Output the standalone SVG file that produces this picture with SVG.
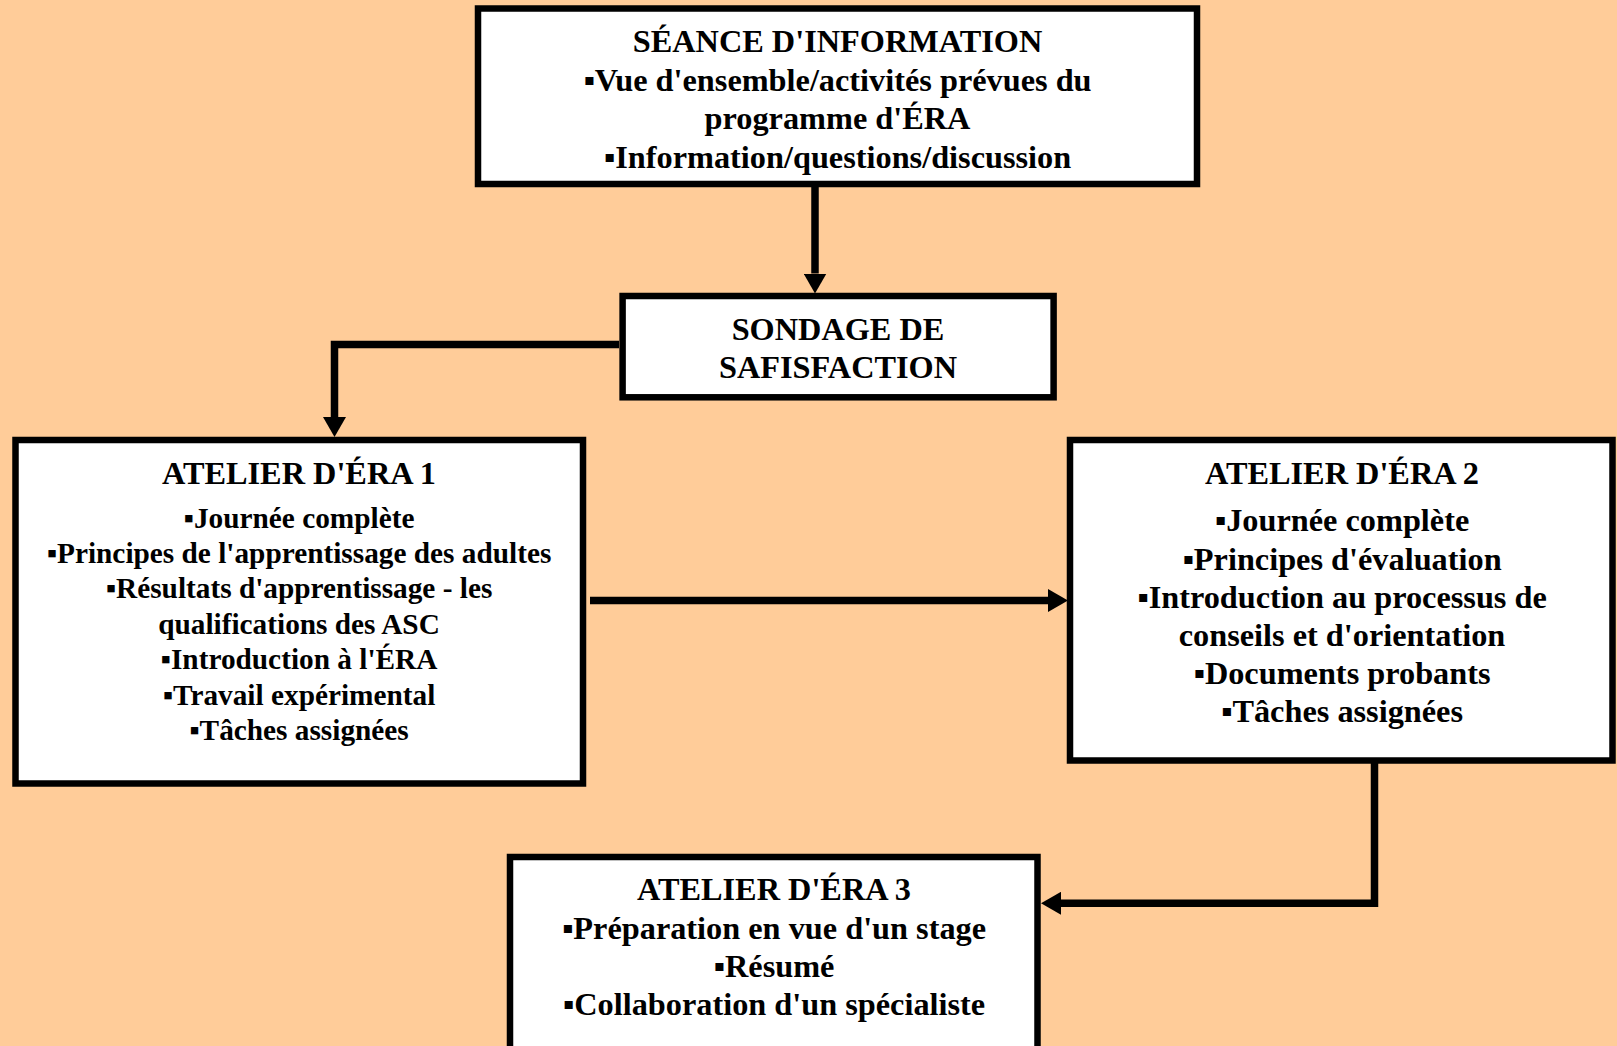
<svg xmlns="http://www.w3.org/2000/svg" width="1617" height="1046" viewBox="0 0 1617 1046">
<style>
.box{fill:#FFFFFF;stroke:#000;stroke-width:6.5}
.t{font-family:"Liberation Serif","Times New Roman",serif;font-weight:bold;fill:#000;text-anchor:middle}
.f32{font-size:32.3px}
.f29{font-size:29.3px}
.c{fill:none;stroke:#000;stroke-width:7.5;stroke-linejoin:miter}
</style>
<defs>
<marker id="ah" viewBox="0 0 20 23" refX="0" refY="11.5" markerWidth="20" markerHeight="23" markerUnits="userSpaceOnUse" orient="auto">
<path d="M0,0 L20,11.5 L0,23 z" fill="#000"/>
</marker>
</defs>
<rect x="0" y="0" width="1617" height="1046" fill="#FFCC99"/>
<g id="connectors">
<path class="c" d="M815,187 V273.5" marker-end="url(#ah)"/>
<path class="c" d="M619,344.5 H334.5 V417" marker-end="url(#ah)"/>
<path class="c" d="M590,600.5 H1048" marker-end="url(#ah)"/>
<path class="c" d="M1374.5,763 V903.3 H1061" marker-end="url(#ah)"/>
</g>
<g id="seance">
<rect class="box" x="478" y="8.5" width="719" height="175.5"/>
<text class="t f32" x="837.5" y="51.5">SÉANCE D'INFORMATION</text>
<text class="t f32" x="837.5" y="90.5">▪Vue d'ensemble/activités prévues du</text>
<text class="t f32" x="837.5" y="129">programme d'ÉRA</text>
<text class="t f32" x="837.5" y="168">▪Information/questions/discussion</text>
</g>
<g id="sondage">
<rect class="box" x="622.6" y="296" width="431" height="101.3"/>
<text class="t f32" x="838" y="340">SONDAGE DE</text>
<text class="t f32" x="838" y="378">SAFISFACTION</text>
</g>
<g id="atelier1">
<rect class="box" x="15.5" y="440" width="567.5" height="343.5"/>
<text class="t f32" x="299" y="483.5">ATELIER D'ÉRA 1</text>
<text class="t f29" x="299" y="528.3">▪Journée complète</text>
<text class="t f29" x="299" y="563.4">▪Principes de l'apprentissage des adultes</text>
<text class="t f29" x="299" y="598.4">▪Résultats d'apprentissage - les</text>
<text class="t f29" x="299" y="633.5">qualifications des ASC</text>
<text class="t f29" x="299" y="668.6">▪Introduction à l'ÉRA</text>
<text class="t f29" x="299" y="704.6">▪Travail expérimental</text>
<text class="t f29" x="299" y="739.6">▪Tâches assignées</text>
</g>
<g id="atelier2">
<rect class="box" x="1070" y="440" width="542.5" height="320.5"/>
<text class="t f32" x="1342" y="483.5">ATELIER D'ÉRA 2</text>
<text class="t f32" x="1342" y="530.5">▪Journée complète</text>
<text class="t f32" x="1342" y="569.5">▪Principes d'évaluation</text>
<text class="t f32" x="1342" y="607.5">▪Introduction au processus de</text>
<text class="t f32" x="1342" y="645.5">conseils et d'orientation</text>
<text class="t f32" x="1342" y="683.5">▪Documents probants</text>
<text class="t f32" x="1342" y="722">▪Tâches assignées</text>
</g>
<g id="atelier3">
<rect class="box" x="510" y="857" width="527.5" height="200"/>
<text class="t f32" x="774" y="899.5">ATELIER D'ÉRA 3</text>
<text class="t f32" x="774" y="938.5">▪Préparation en vue d'un stage</text>
<text class="t f32" x="774" y="976.5">▪Résumé</text>
<text class="t f32" x="774" y="1014.5">▪Collaboration d'un spécialiste</text>
</g>
</svg>
